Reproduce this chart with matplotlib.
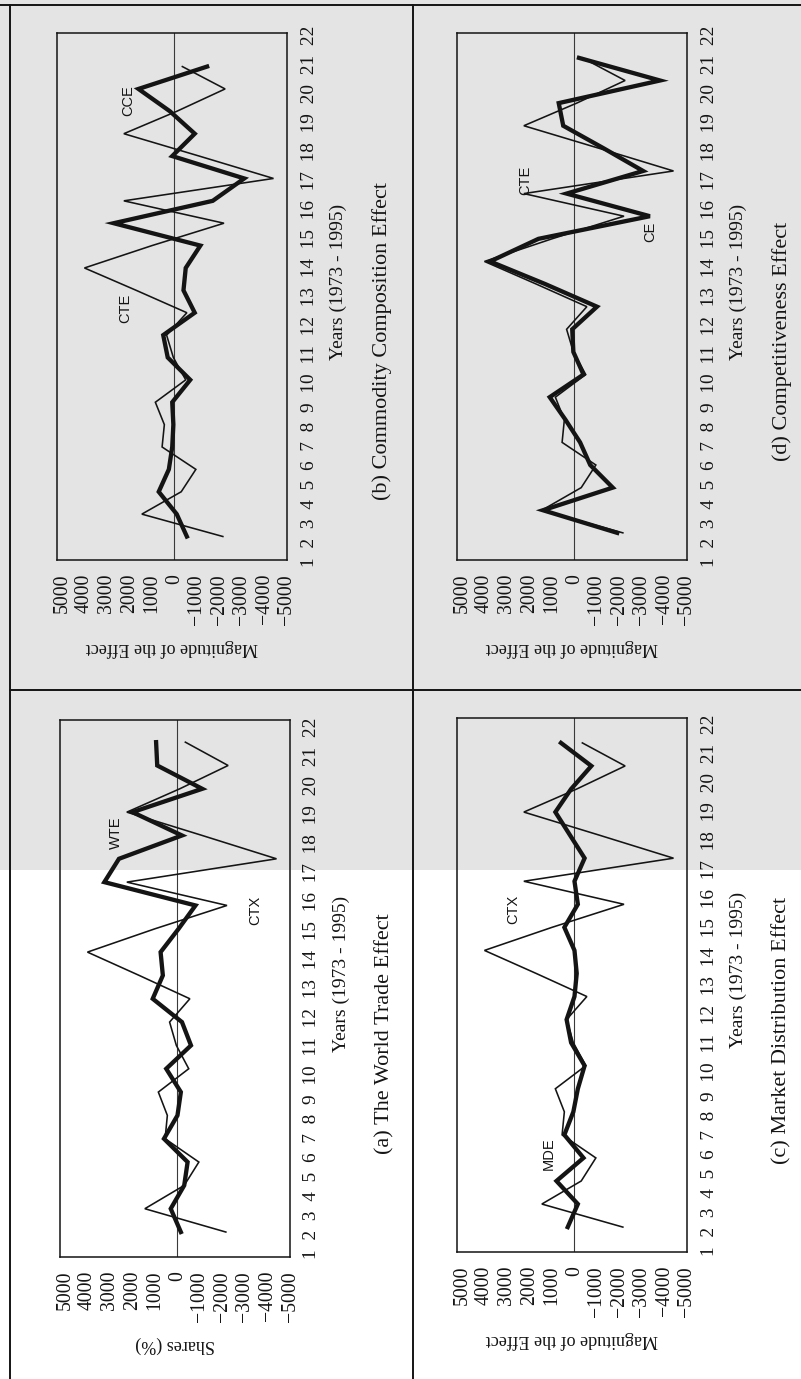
import matplotlib
matplotlib.use("Agg")
import matplotlib.pyplot as plt
from matplotlib.patches import Rectangle
from matplotlib.lines import Line2D

# ---------------- data ----------------
years = list(range(1, 23))
value_ticks = [5000, 4000, 3000, 2000, 1000, 0, -1000, -2000, -3000, -4000, -5000]
value_tick_labels = ["5000", "4000", "3000", "2000", "1000", "0",
                     "\u22121000", "\u22122000", "\u22123000", "\u22124000", "\u22125000"]
year_labels = [str(y) for y in years]

# total change in exports (thin line, CTX / CTE)
ctx = [-2150, 1450, -300, -950, 550, 450, 850, -500, 50, 350, -550,
       1700, 4000, 1000, -2200, 2250, -4400, -1100, 2250, -100, -2250, -350]
# world trade effect (thick)
wte = [-150, 300, -300, -450, 600, 0, -150, 500, -600, -200, 1100,
       650, 750, -50, -800, 3250, 2600, -200, 2000, -1100, 900, 950]
# commodity composition effect (thick)
cce = [-550, -100, 700, 250, 100, 50, 100, -700, 300, 500, -900,
       -400, -500, -1150, 2700, -1700, -3100, 100, -900, 200, 1600, -1450]
# market distribution effect (thick)
mde = [300, -150, 800, -400, 450, 50, -150, -450, 150, 350, 0,
       -100, 0, 450, -150, 0, -450, 200, 850, 150, -750, 600]
# competitiveness effect (thick)
ce = [-1900, 1400, -1700, -700, -250, 400, 1100, -400, 50, 100, -1000,
      1300, 3750, 1600, -3350, 350, -3050, -1300, 500, 700, -3800, -200]

W, H = 801, 1379
fig = plt.figure(figsize=(W / 100, H / 100), dpi=100)
fig.patch.set_facecolor("white")

SERIF = ["Liberation Serif", "DejaVu Serif"]
SANS = ["Liberation Sans", "DejaVu Sans"]
INK = "#141414"

# scanned-page grey region
fig.patches.append(Rectangle((0, 1 - 870 / H), 1, 870 / H, transform=fig.transFigure,
                             facecolor="#e4e4e4", edgecolor="none", zorder=-10))


def fx(x):
    return x / W


def fy(y):
    return 1 - y / H


# table frame lines
def fline(x0, y0, x1, y1, lw=1.4):
    fig.add_artist(Line2D([fx(x0), fx(x1)], [fy(y0), fy(y1)],
                          transform=fig.transFigure, color=INK, lw=lw))


fline(0, 5, W, 5)
fline(10, 5, 10, H)
fline(413, 5, 413, H)
fline(10, 690, W, 690)

panels = [
    dict(box=(57, 33, 287, 560), ylim=(-0.05, 23.5), thick=cce, thin=ctx,
         labels=[("CTE", 2200, 11.2), ("CCE", 2070, 20.5)],
         ylabel="Magnitude of the Effect", caption="(b) Commodity Composition Effect"),
    dict(box=(457, 33, 687, 560), ylim=(-0.2, 23.1), thick=ce, thin=ctx,
         labels=[("CTE", 2180, 16.6), ("CE", -3380, 14.3)],
         ylabel="Magnitude of the Effect", caption="(d) Competitiveness Effect"),
    dict(box=(60, 720, 290, 1257), ylim=(-0.07, 22.95), thick=wte, thin=ctx,
         labels=[("WTE", 2750, 18.1), ("CTX", -3470, 14.8)],
         ylabel="Shares (%)", caption="(a) The World Trade Effect"),
    dict(box=(457, 718, 687, 1252), ylim=(-0.08, 23.08), thick=mde, thin=ctx,
         labels=[("CTX", 2710, 14.8), ("MDE", 1150, 4.2)],
         ylabel="Magnitude of the Effect", caption="(c) Market Distribution Effect"),
]

year_string = "  ".join(year_labels)

for p in panels:
    x0, y0, x1, y1 = p["box"]
    ax = fig.add_axes([fx(x0), fy(y1), (x1 - x0) / W, (y1 - y0) / H])
    ax.set_facecolor("none")
    ax.set_xlim(5220, -5000)
    ax.set_ylim(*p["ylim"])
    ax.axvline(0, color="#3a3a3a", lw=0.8, zorder=1)
    ax.plot(p["thin"], years, color=INK, lw=1.15, zorder=3, solid_joinstyle="miter")
    ax.plot(p["thick"], years, color=INK, lw=3.1, zorder=4, solid_joinstyle="miter")
    for s in ax.spines.values():
        s.set_linewidth(1.1)
        s.set_color(INK)
    ax.set_xticks(value_ticks)
    ax.set_xticklabels(value_tick_labels, rotation=90, family=SERIF, fontsize=14.2, color=INK)
    ax.tick_params(axis="x", length=0, pad=10)
    ax.set_yticks([])
    for txt, v, yy in p["labels"]:
        ax.text(v, yy, txt, rotation=90, family=SANS, fontsize=10.5, color=INK,
                ha="center", va="center", zorder=5)
    cx = (x0 + x1) / 2
    cy = (y0 + y1) / 2
    # year labels typed as a string along the right side
    fig.text(fx(x1 + 22), fy(cy), year_string, rotation=90, family=SERIF, fontsize=13.9,
             color=INK, ha="center", va="center")
    fig.text(fx(x1 + 51), fy(cy - 15), "Years (1973 - 1995)", rotation=90, family=SERIF,
             fontsize=14, color=INK, ha="center", va="center")
    fig.text(fx(x1 + 95), fy(cy + 45), p["caption"], rotation=90, family=SERIF,
             fontsize=16, color=INK, ha="center", va="center")
    fig.text(fx(cx), fy(y1 + 88), p["ylabel"], rotation=180, family=SERIF,
             fontsize=13, color=INK, ha="center", va="center")

fig.savefig("out.png", dpi=100)
